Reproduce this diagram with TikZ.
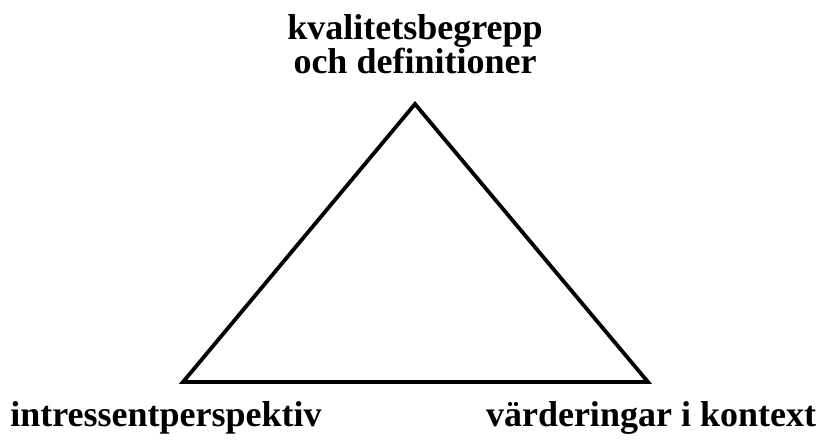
\documentclass[tikz,border=0pt]{standalone}
\usepackage{fontspec}
\setmainfont{Liberation Serif}
\usetikzlibrary{positioning}

\begin{document}
\begin{tikzpicture}[
  x=1pt, y=-1pt,
  font=\bfseries\fontsize{36}{38}\selectfont,
  label/.style={inner sep=0pt, align=center},
  edge/.style={line width=3.8pt, line join=miter}
]
\useasboundingbox (0,0) rectangle (821,446);

\coordinate (top) at (415,104);
\coordinate (left) at (183,382);
\coordinate (right) at (648,382);

\draw[edge] (top) -- (left) -- (right) -- cycle;

\node[label, anchor=base] (topl) at (415,40) {kvalitetsbegrepp};
\node[label, anchor=base] (topl2) at (415,74) {och definitioner};
\node[label, anchor=base] (leftl) at (166,426) {intressentperspektiv};
\node[label, anchor=base] (rightl) at (651,426) {värderingar i kontext};
\end{tikzpicture}
\end{document}
